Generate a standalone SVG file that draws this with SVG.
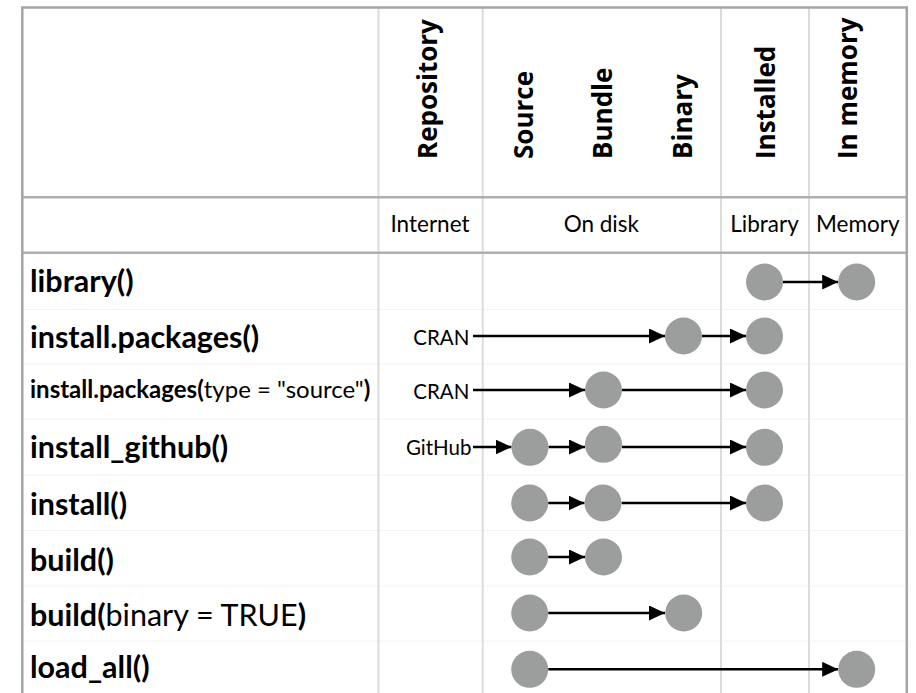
<svg xmlns="http://www.w3.org/2000/svg" width="916" height="693" viewBox="0 0 916 693">
<style>
.hdr{font-family:"Open Sans","Noto Sans",sans-serif;font-weight:700;font-size:26px;fill:#000}
.sub{font-family:Lato,"Liberation Sans",sans-serif;font-size:22.5px;fill:#000;text-anchor:middle}
.src{font-family:Lato,"Liberation Sans",sans-serif;font-size:20.5px;fill:#000;text-anchor:end}
.lbl{font-family:Lato,"Liberation Sans",sans-serif;font-weight:700;font-size:30.5px;fill:#000}
.lbl.sm{font-size:24px}
.lbl .n{font-weight:400}
.col{stroke:#dcdcdc;stroke-width:2;fill:none}
.rowsep{stroke:#f2f2f2;stroke-width:1;fill:none}
.hline{stroke:#aeb0af;stroke-width:2.5;fill:none}
.frame{stroke:#a3a6a4;stroke-width:2.5;fill:none}
.dot{fill:#9b9e9c}
.arr{stroke:#000;stroke-width:2.5;fill:none;marker-end:url(#ah)}
</style>
<defs>
<marker id="ah" markerUnits="userSpaceOnUse" markerWidth="16" markerHeight="15" refX="16" refY="7.5" orient="auto" viewBox="0 0 16 15">
<path d="M0,0 L16,7.5 L0,15 Z" fill="#000"/>
</marker>
</defs>
<rect width="916" height="693" fill="#fff"/>
<g id="grid">
<line class="rowsep" x1="22" y1="309.5" x2="907" y2="309.5"/>
<line class="rowsep" x1="22" y1="364" x2="907" y2="364"/>
<line class="rowsep" x1="22" y1="419" x2="907" y2="419"/>
<line class="rowsep" x1="22" y1="475" x2="907" y2="475"/>
<line class="rowsep" x1="22" y1="530.5" x2="907" y2="530.5"/>
<line class="rowsep" x1="22" y1="586" x2="907" y2="586"/>
<line class="rowsep" x1="22" y1="641" x2="907" y2="641"/>
<line class="col" x1="378.5" y1="8" x2="378.5" y2="700"/>
<line class="col" x1="482.7" y1="8" x2="482.7" y2="700"/>
<line class="col" x1="721" y1="8" x2="721" y2="700"/>
<line class="col" x1="809" y1="8" x2="809" y2="700"/>
<line class="hline" x1="22" y1="197.3" x2="907" y2="197.3"/>
<line class="hline" x1="22" y1="252.7" x2="907" y2="252.7"/>
<polyline class="frame" points="22.3,700 22.3,7.5 906.8,7.5 906.8,700"/>
</g>
<g id="header">
<text class="hdr" transform="translate(437,159) rotate(-90)">Repository</text>
<text class="hdr" transform="translate(533,159) rotate(-90)">Source</text>
<text class="hdr" transform="translate(611.5,159) rotate(-90)">Bundle</text>
<text class="hdr" transform="translate(692,159) rotate(-90)">Binary</text>
<text class="hdr" transform="translate(775,159) rotate(-90)">Installed</text>
<text class="hdr" transform="translate(857,159) rotate(-90)">In memory</text>
<text class="sub" x="430" y="232.3">Internet</text>
<text class="sub" x="601.3" y="232.3">On disk</text>
<text class="sub" x="764.5" y="232.3">Library</text>
<text class="sub" x="857.8" y="232.3">Memory</text>
</g>
<g id="labels">
<text class="lbl" x="30" y="291.7">library()</text>
<text class="lbl" x="30" y="348">install.packages()</text>
<text class="lbl sm" x="30" y="398.3">install.packages(<tspan class="n">type = "source"</tspan>)</text>
<text class="lbl" x="30" y="458">install_github()</text>
<text class="lbl" x="30" y="515">install()</text>
<text class="lbl" x="30" y="570.5">build()</text>
<text class="lbl" x="30" y="625.7">build(<tspan class="n">binary = TRUE</tspan>)</text>
<text class="lbl" x="30" y="678.3">load_all()</text>
</g>
<g id="sources">
<text class="src" x="469.3" y="344.5">CRAN</text>
<text class="src" x="469.3" y="398.5">CRAN</text>
<text class="src" x="471.5" y="455">GitHub</text>
</g>
<g id="connectors">
<line class="arr" x1="783" y1="282" x2="838.2" y2="282"/>
<line class="arr" x1="473" y1="336" x2="665" y2="336"/>
<line class="arr" x1="702" y1="336" x2="746" y2="336"/>
<line class="arr" x1="473" y1="390" x2="585" y2="390"/>
<line class="arr" x1="622" y1="390" x2="746" y2="390"/>
<line class="arr" x1="473" y1="447" x2="511.5" y2="447"/>
<line class="arr" x1="548.5" y1="447" x2="585" y2="447"/>
<line class="arr" x1="622" y1="447" x2="746" y2="447"/>
<line class="arr" x1="548.2" y1="503" x2="584.5" y2="503"/>
<line class="arr" x1="621.5" y1="503" x2="746" y2="503"/>
<line class="arr" x1="548.2" y1="557" x2="585" y2="557"/>
<line class="arr" x1="548.2" y1="613" x2="665" y2="613"/>
<line class="arr" x1="548.2" y1="669.3" x2="838.2" y2="669.3"/>
</g>
<g id="nodes">
<circle id="lib-installed" class="dot" cx="764.5" cy="282" r="18.5"/>
<circle id="lib-memory" class="dot" cx="856.7" cy="282" r="18.5"/>
<circle id="ip-binary" class="dot" cx="683.5" cy="336" r="18.5"/>
<circle id="ip-installed" class="dot" cx="764.5" cy="336" r="18.5"/>
<circle id="ips-bundle" class="dot" cx="603.5" cy="390" r="18.5"/>
<circle id="ips-installed" class="dot" cx="764.5" cy="390" r="18.5"/>
<circle id="gh-source" class="dot" cx="530" cy="447.3" r="18.5"/>
<circle id="gh-bundle" class="dot" cx="603.5" cy="444.3" r="18.5"/>
<circle id="gh-installed" class="dot" cx="764.5" cy="447.3" r="18.5"/>
<circle id="in-source" class="dot" cx="529.7" cy="503" r="18.5"/>
<circle id="in-bundle" class="dot" cx="603" cy="503" r="18.5"/>
<circle id="in-installed" class="dot" cx="764.5" cy="503" r="18.5"/>
<circle id="b-source" class="dot" cx="529.7" cy="557" r="18.5"/>
<circle id="b-bundle" class="dot" cx="603.5" cy="557" r="18.5"/>
<circle id="bb-source" class="dot" cx="529.7" cy="613" r="18.5"/>
<circle id="bb-binary" class="dot" cx="683.7" cy="613" r="18.5"/>
<circle id="la-source" class="dot" cx="529.7" cy="669.3" r="18.5"/>
<circle id="la-memory" class="dot" cx="856.7" cy="669.3" r="18.5"/>
</g>
</svg>
